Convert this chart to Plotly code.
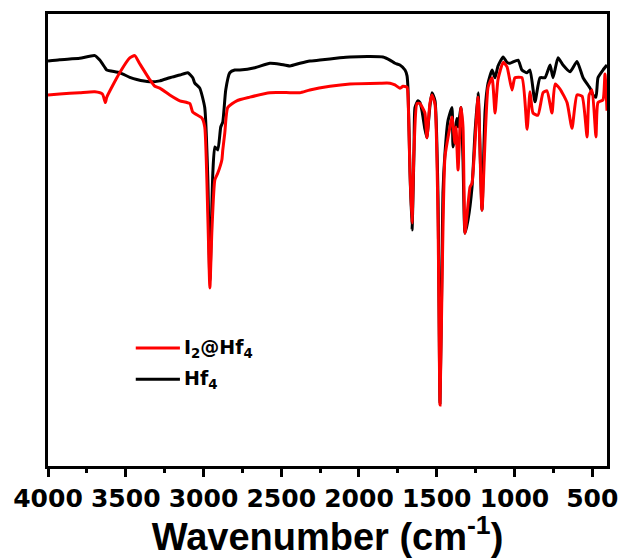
import plotly.graph_objects as go

# Hf4 spectrum (wavenumber cm-1, transmittance a.u.)
hf4_wn = [4000, 3925, 3796, 3699, 3667, 3631, 3622, 3539, 3474, 3429, 3346, 3281, 3217, 3152,
          3101, 3069, 3056, 3024, 2992, 2972, 2959, 2940, 2927, 2908, 2889, 2876, 2857, 2831,
          2799, 2766, 2670, 2573, 2508, 2444, 2380, 2316, 2251, 2123, 2058, 1930, 1846, 1801,
          1769, 1737, 1704, 1691, 1685, 1672, 1659, 1646, 1640, 1621, 1608, 1595, 1576, 1563,
          1556, 1544, 1531, 1511, 1492, 1479, 1466, 1460, 1447, 1428, 1402, 1395, 1370, 1363,
          1344, 1331, 1318, 1299, 1273, 1254, 1234, 1209, 1189, 1170, 1144, 1125, 1106, 1073,
          1048, 1029, 977, 952, 919, 900, 868, 836, 804, 771, 752, 720, 688, 643, 598, 559,
          514, 495, 476, 463, 431, 405]
hf4_t = [89.6, 89.9, 90.2, 90.8, 89.8, 88.0, 87.6, 87.0, 86.0, 85.5, 85.0, 85.2, 85.9, 86.5,
         87.0, 85.9, 84.7, 83.6, 79.3, 63.3, 41.0, 64.8, 70.6, 69.9, 75.0, 76.1, 83.2, 87.0,
         87.6, 87.6, 88.1, 89.1, 88.9, 88.5, 89.1, 89.6, 89.8, 90.3, 90.5, 90.6, 90.5, 89.8,
         89.1, 88.7, 87.6, 86.3, 83.6, 65.0, 52.2, 70.0, 79.3, 80.8, 80.4, 78.6, 74.5, 72.6,
         75.0, 79.5, 82.6, 80.8, 60.0, 14.0, 45.0, 60.4, 69.2, 76.3, 79.3, 70.6, 76.9, 75.0,
         79.3, 67.7, 51.5, 54.4, 61.7, 73.7, 82.6, 56.6, 78.6, 84.7, 87.6, 85.9, 88.5, 90.5,
         89.3, 89.1, 89.8, 87.6, 87.0, 87.6, 80.6, 85.9, 85.9, 88.7, 85.9, 90.3, 88.7, 87.2,
         89.5, 85.9, 83.6, 82.1, 81.6, 85.9, 87.6, 88.7]

# I2@Hf4 spectrum
i2_wn = [4000, 3925, 3796, 3699, 3650, 3631, 3622, 3539, 3474, 3442, 3410, 3346, 3313, 3281,
         3217, 3152, 3088, 3069, 3011, 2992, 2972, 2959, 2946, 2927, 2908, 2882, 2876, 2863,
         2844, 2786, 2702, 2573, 2444, 2380, 2316, 2187, 2058, 1865, 1801, 1769, 1737, 1717,
         1691, 1685, 1672, 1659, 1646, 1627, 1608, 1595, 1576, 1563, 1544, 1531, 1511, 1492,
         1479, 1466, 1447, 1415, 1402, 1383, 1376, 1363, 1344, 1331, 1318, 1286, 1273, 1234,
         1209, 1170, 1144, 1125, 1106, 1073, 1048, 1016, 997, 952, 919, 900, 881, 849, 816,
         791, 759, 739, 707, 662, 630, 598, 565, 533, 520, 501, 476, 463, 431, 418, 405]
i2_t = [82.1, 82.3, 82.6, 82.8, 82.3, 80.4, 81.6, 87.0, 90.3, 90.8, 89.0, 85.5, 84.0, 83.6,
        82.1, 80.8, 80.2, 78.3, 77.0, 75.0, 55.0, 39.4, 52.0, 63.3, 64.8, 67.7, 69.9, 73.7,
        79.3, 80.8, 81.6, 82.6, 82.6, 82.6, 83.2, 84.0, 84.5, 84.7, 84.7, 84.3, 83.6, 84.0,
        83.8, 82.0, 65.0, 53.8, 70.0, 80.2, 80.2, 79.5, 78.1, 72.6, 80.2, 82.1, 80.0, 55.0,
        13.5, 40.0, 68.4, 75.0, 77.2, 71.4, 75.0, 65.5, 79.3, 75.0, 51.5, 61.7, 62.6, 81.6,
        56.6, 83.8, 85.9, 78.1, 85.5, 89.3, 88.3, 83.2, 85.9, 85.9, 74.5, 82.8, 78.1, 77.6,
        82.6, 83.0, 78.1, 84.5, 83.4, 80.4, 74.7, 82.1, 81.8, 72.8, 82.1, 83.2, 72.8, 80.4,
        81.0, 86.7, 78.6]

x_ticks = [4000, 3500, 3000, 2500, 2000, 1500, 1000, 500]
minor_ticks = [3750, 3250, 2750, 2250, 1750, 1250, 750]

series = [
    dict(name="<b>I<sub>2</sub>@Hf<sub>4</sub></b>", color="#ff0000", ly=0.261),
    dict(name="<b>Hf<sub>4</sub></b>", color="#000000", ly=0.192),
]

fig = go.Figure()
fig.add_trace(go.Scatter(x=hf4_wn, y=hf4_t, mode="lines", name="Hf4", showlegend=False,
                         line=dict(color="#000000", width=3, shape="spline", smoothing=0.5)))
fig.add_trace(go.Scatter(x=i2_wn, y=i2_t, mode="lines", name="I2@Hf4", showlegend=False,
                         line=dict(color="#ff0000", width=3, shape="spline", smoothing=0.5)))

# legend drawn as line samples + labels
for s in series:
    fig.add_shape(type="line", xref="paper", yref="paper", x0=0.157, x1=0.236,
                  y0=s["ly"], y1=s["ly"], line=dict(color=s["color"], width=3))
    fig.add_annotation(xref="paper", yref="paper", x=0.240, y=s["ly"], xanchor="left",
                       yanchor="middle", text=s["name"], showarrow=False,
                       font=dict(family="DejaVu Sans", size=19, color="black"))

fig.update_layout(
    width=619, height=558,
    margin=dict(l=48, r=12, t=14, b=92, autoexpand=False),
    paper_bgcolor="white", plot_bgcolor="white",
    showlegend=False,
    xaxis=dict(range=[4000, 405], tickvals=x_ticks, ticktext=[str(v) for v in x_ticks],
               automargin=False,
               ticks="outside", ticklen=8, tickwidth=2.5, tickcolor="black",
               minor=dict(tickvals=minor_ticks, ticks="outside",
                          ticklen=4, tickwidth=2.5, tickcolor="black"),
               showline=True, linewidth=2.5, linecolor="black", mirror=True,
               showgrid=False, zeroline=False,
               tickfont=dict(family="DejaVu Sans", size=25, color="black", weight="bold"),
               title=dict(text="<b>Wavenumber (cm<sup>-1</sup>)</b>", standoff=5,
                          font=dict(family="Liberation Sans", size=38, color="black"))),
    yaxis=dict(range=[0, 100], showticklabels=False, ticks="", showgrid=False, zeroline=False,
               automargin=False,
               showline=True, linewidth=2.5, linecolor="black", mirror=True),
)

fig.write_html("out.html")
